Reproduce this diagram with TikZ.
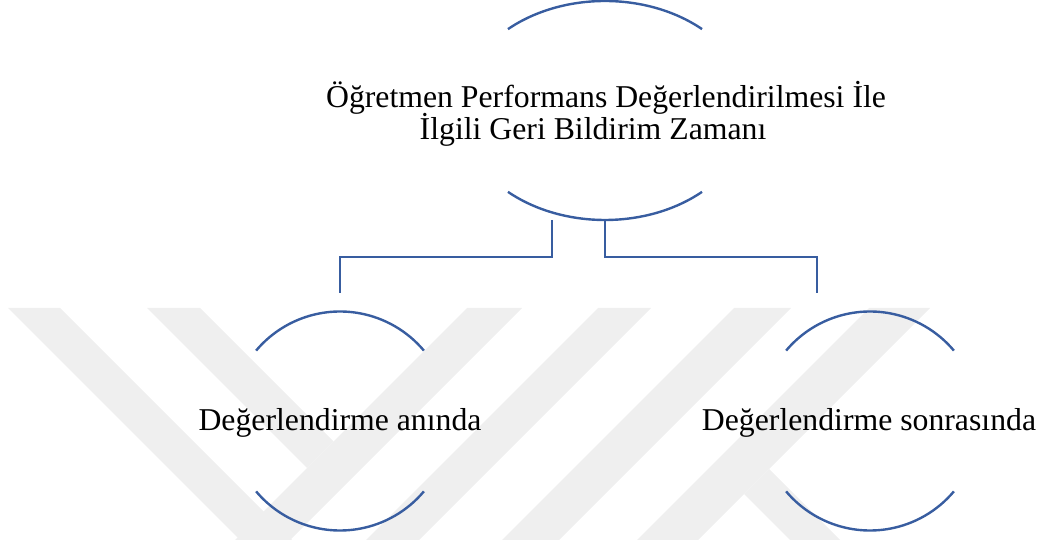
\documentclass[tikz,border=0pt]{standalone}
\usepackage{fontspec}
\setmainfont{Liberation Serif}
\usetikzlibrary{calc}
\definecolor{arcblue}{RGB}{56,93,160}
\definecolor{wmgray}{RGB}{239,239,239}
\begin{document}
\begin{tikzpicture}[x=1pt,y=1pt,
  arcline/.style={draw=arcblue, line width=2.4pt},
  conn/.style={draw=arcblue, line width=2.4pt},
  txt/.style={font=\fontsize{31.75}{32}\selectfont, inner sep=0pt, anchor=base},
  band/.style={fill=wmgray, draw=none}]
\useasboundingbox (0,0) rectangle (1046,540);

% faint logo watermark behind the chart
\fill[band] (8,232) -- (60,232) -- (292,0) -- (240,0) -- cycle;
\fill[band] (147,232) -- (200,232) -- (333.5,98.5) -- (307,72) -- cycle;
\fill[band] (467,232) -- (522,232) -- (290,0) -- (235,0) -- cycle;
\fill[band] (598,232) -- (651,232) -- (419,0) -- (366,0) -- cycle;
\fill[band] (734,232) -- (791,232) -- (559,0) -- (502,0) -- cycle;
\fill[band] (869,232) -- (930,232) -- (698,0) -- (637,0) -- cycle;
\fill[band] (769,71) -- (744,46) -- (790,0) -- (840,0) -- cycle;

% centres of the bracket shapes
\coordinate (rootc) at (605,429.5);
\coordinate (leftc) at (340,119);
\coordinate (rightc) at (870,119);

% root: upper and lower elliptic brackets
\draw[arcline] ($(rootc)+(132:145pt and 109.5pt)$) arc[start angle=132, end angle=48, x radius=145pt, y radius=109.5pt];
\draw[arcline] ($(rootc)+(228:145pt and 109.5pt)$) arc[start angle=228, end angle=312, x radius=145pt, y radius=109.5pt];

% children: circular brackets
\foreach \c in {leftc,rightc}{
  \draw[arcline] ($(\c)+(140:109.5pt)$) arc[start angle=140, end angle=40, radius=109.5pt];
  \draw[arcline] ($(\c)+(220:109.5pt)$) arc[start angle=220, end angle=320, radius=109.5pt];
}

% texts
\node[txt] (root1) at (606,432) {Öğretmen Performans Değerlendirilmesi İle};
\node[txt] (root2) at (593,400) {İlgili Geri Bildirim Zamanı};
\node[txt] (left) at (340,109.5) {Değerlendirme anında};
\node[txt] (right) at (869,109) {Değerlendirme sonrasında};

% connector ends
\coordinate (rootL) at (552,320);
\coordinate (rootR) at (605,320);
\coordinate (bus) at (0,283);
\coordinate (leftIn) at (340,247);
\coordinate (rightIn) at (817,247);

\draw[conn] (rootL) -- (rootL |- bus) -| (leftIn);
\draw[conn] (rootR) -- (rootR |- bus) -| (rightIn);
\end{tikzpicture}
\end{document}
